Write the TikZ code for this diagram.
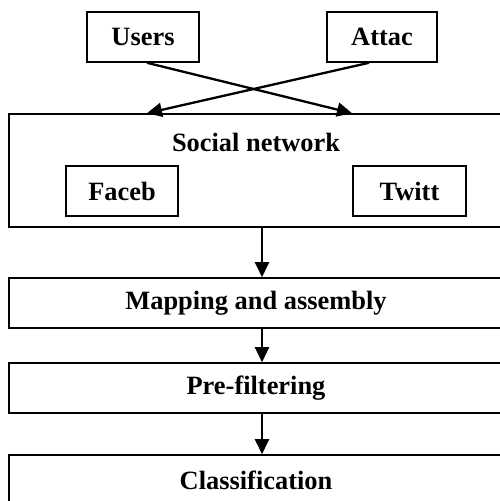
\documentclass[tikz,border=0pt]{standalone}
\usepackage{fontspec}
\setmainfont{Liberation Serif}
\usetikzlibrary{arrows.meta}
\begin{document}
\begin{tikzpicture}[x=1pt,y=1pt,
  box/.style={draw=black, line width=1.6pt, inner sep=0pt, font=\fontsize{26.4}{30}\selectfont\bfseries},
  lbl/.style={inner sep=0pt, font=\fontsize{26.4}{30}\selectfont\bfseries},
  arr/.style={line width=2.3pt, -{Triangle[length=15pt,width=14pt]}}]
\useasboundingbox (0,0) rectangle (500,-501);
\clip (0,0) rectangle (500,-501);
\node[box, minimum width=112pt, minimum height=50pt] (users) at (143,-37) {Users};
\node[box, minimum width=110pt, minimum height=50pt] (attac) at (382,-37) {Attac};
\node[box, minimum width=494pt, minimum height=113pt] (social) at (256,-170.5) {};
\node[lbl] (sntext) at (256,-142) {Social network};
\node[box, minimum width=112pt, minimum height=50pt] (faceb) at (122,-191) {Faceb};
\node[box, minimum width=113pt, minimum height=50pt] (twitt) at (409.5,-191) {Twitt};
\node[box, minimum width=494pt, minimum height=50pt] (mapping) at (256,-303) {Mapping and assembly};
\node[box, minimum width=494pt, minimum height=50pt] (prefilter) at (256,-388) {Pre-filtering};
\node[box, minimum width=494pt, minimum height=50pt] (classif) at (256,-480) {Classification};
\draw[arr] ([xshift=4pt]users.south) -- ([xshift=96pt]social.north);
\draw[arr] ([xshift=-13pt]attac.south) -- ([xshift=-109pt]social.north);
\draw[arr] ([xshift=6pt]social.south) -- ([xshift=6pt]mapping.north);
\draw[arr] ([xshift=6pt]mapping.south) -- ([xshift=6pt]prefilter.north);
\draw[arr] ([xshift=6pt]prefilter.south) -- ([xshift=6pt]classif.north);
\end{tikzpicture}
\end{document}
